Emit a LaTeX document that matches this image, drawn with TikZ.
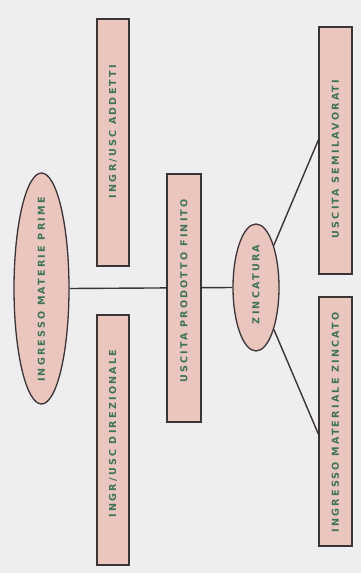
\documentclass[tikz,border=0pt]{standalone}
\usepackage{fontspec}
\newfontfamily\labfont[LetterSpace=23]{DejaVu Sans Bold}
\usetikzlibrary{shapes.geometric,backgrounds}
\definecolor{bgc}{HTML}{EEEEF0}
\definecolor{boxfill}{HTML}{EAC6BE}
\definecolor{edge}{HTML}{3A3436}
\definecolor{txt}{HTML}{3F7357}
\tikzset{
  x=1pt,y=-1pt,
  base/.style={draw=edge,line width=1.3pt,fill=boxfill,inner sep=0pt,text=txt,
    font=\labfont\fontsize{9.6}{10}\selectfont},
  bar/.style={base,rectangle},
  oval/.style={base,ellipse},
  link/.style={draw=edge,line width=1.4pt},
}
\newcommand{\vlab}[2][0pt]{\rotatebox{90}{\hbox to 0pt{\hss\kern#1\kern#1\relax #2\hss}}}
\begin{document}
\begin{tikzpicture}
\useasboundingbox (0,0) rectangle (361,573);
\node[bar,minimum width=32pt,minimum height=247pt] (addetti) at (113,142.5) {\vlab[11pt]{INGR/USC ADDETTI}};
\node[bar,minimum width=33pt,minimum height=247pt] (semilav) at (335.5,150.5) {\vlab[-8.5pt]{USCITA SEMILAVORATI}};
\node[bar,minimum width=34pt,minimum height=248pt] (prodotto) at (184,298) {\vlab[7pt]{USCITA PRODOTTO FINITO}};
\node[bar,minimum width=32pt,minimum height=250pt] (direz) at (113,440) {\vlab[6.5pt]{INGR/USC DIREZIONALE}};
\node[bar,minimum width=33pt,minimum height=249pt] (zincato) at (335.5,421.5) {\vlab[-1pt]{INGRESSO MATERIALE ZINCATO}};
\node[oval,minimum width=55pt,minimum height=231pt] (materie) at (41.5,288.5) {\vlab[-1pt]{INGRESSO MATERIE PRIME}};
\node[oval,minimum width=46pt,minimum height=127pt] (zinc) at (256,287.5) {\vlab[3pt]{ZINCATURA}};
\begin{scope}[on background layer]
\fill[bgc] (0,0) rectangle (361,573);
\draw[link] (materie.east) -- (zinc.west);
\end{scope}
\draw[link] (zinc) -- ([yshift=10.5pt]semilav.west);
\draw[link] (zinc) -- ([yshift=-12.5pt]zincato.west);
\end{tikzpicture}
\end{document}
